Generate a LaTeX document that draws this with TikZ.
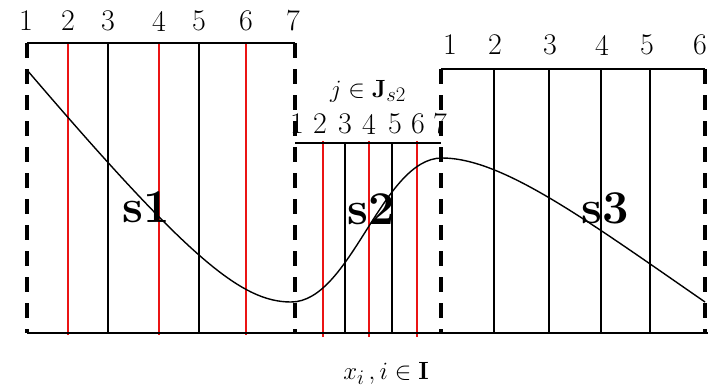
\documentclass[tikz,border=0pt]{standalone}
\usepackage{xcolor}
\usepackage{tikz}
\usetikzlibrary{positioning}
\definecolor{figred}{RGB}{235,20,20}
\tikzstyle{segedge} = [line width=3.2pt, dash pattern=on 15pt off 11pt, draw=black]
\tikzstyle{bar} = [line width=1.6pt, draw=black]
\tikzstyle{gridline} = [line width=1.2pt, draw=black]
\tikzstyle{redline} = [line width=1.2pt, draw=figred]
\tikzstyle{idx} = [inner sep=0pt, font=\fontsize{30}{34}\selectfont]
\tikzstyle{seglabel} = [inner sep=0pt, font=\fontsize{47}{50}\selectfont\bfseries]
\tikzstyle{setlabel} = [inner sep=0pt, font=\fontsize{28}{32}\selectfont]

\begin{document}
\begin{tikzpicture}[x=1pt, y=-1pt]
    \useasboundingbox (0,0) rectangle (718,391);

    % segment s1
    \foreach \x/\n in {26/1, 68/2, 108/3, 159/4, 199/5, 246/6, 293/7}
        \node (a\n) [idx] at (\x,21) {\n};
    \foreach \x in {108, 199}
        \draw[gridline] (\x,43) -- (\x,333);
    \foreach \x in {68, 159, 246}
        \draw[redline] (\x,43) -- (\x,335);
    \draw[bar] (27,43) -- (295,43);
    \node (s1) [seglabel] at (146,207) {s1};

    % segment s2
    \foreach \x/\n in {297/1, 320/2, 345/3, 369/4, 395/5, 418/6, 440/7}
        \node (b\n) [idx] at (\x,124) {\n};
    \foreach \x in {345, 392}
        \draw[gridline] (\x,143) -- (\x,333);
    \foreach \x in {323, 369, 417}
        \draw[redline] (\x,141) -- (\x,337);
    \draw[bar] (295,143) -- (441,143);
    \node (s2) [seglabel] at (371,209) {s2};
    \node (jset) [setlabel] at (368,91) {$j \in \mathbf{J}_{s2}$};

    % segment s3
    \foreach \x/\n in {450/1, 495/2, 550/3, 602/4, 647/5, 700/6}
        \node (c\n) [idx] at (\x,45) {\n};
    \foreach \x in {494, 549, 601, 650}
        \draw[gridline] (\x,69) -- (\x,333);
    \draw[bar] (441,69) -- (705,69);
    \node (s3) [seglabel] at (605,208) {s3};

    % segment borders
    \draw[segedge] (27,43) -- (27,333);
    \draw[segedge] (295,43) -- (295,333);
    \draw[segedge] (441,69) -- (441,333);
    \draw[segedge] (705,69) -- (705,333);

    % axis and curve
    \draw[bar] (27,333) -- (708,333);
    \node (xset) [setlabel] at (386,373) {$x_i\,, i \in \mathbf{I}$};
    \draw[line width=1.4pt] (27,70)
        .. controls (187,257) and (241,302) .. (291,302)
        .. controls (351,302) and (382,158) .. (442,158)
        .. controls (502,158) and (585,219) .. (705,302);
\end{tikzpicture}
\end{document}
